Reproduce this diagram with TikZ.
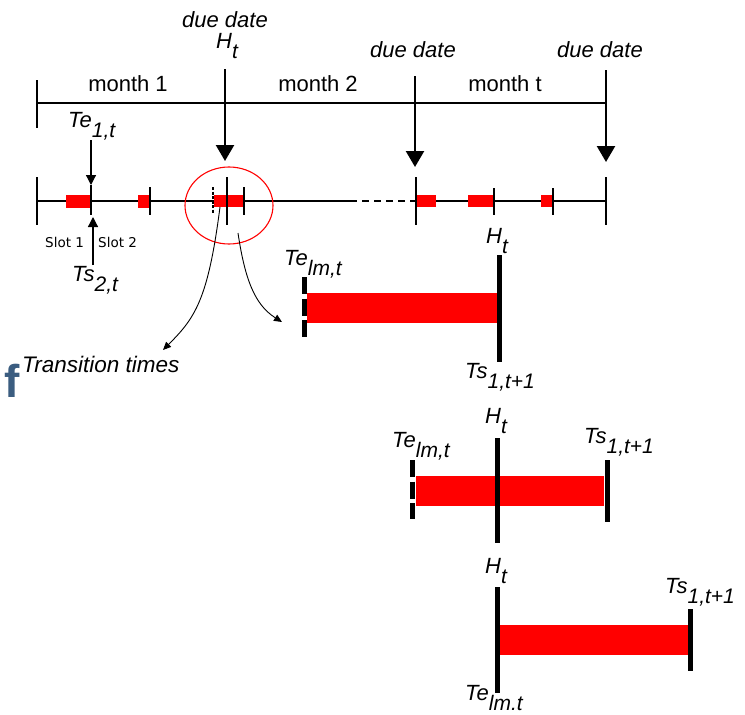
\documentclass[tikz,border=0pt]{standalone}
\usepackage{fontspec}
\setmainfont{Liberation Sans}
\newfontfamily\dejavu{DejaVu Sans}
\usetikzlibrary{arrows.meta,shapes.geometric}
\newcommand{\fsz}[1]{\fontsize{#1}{#1}\selectfont}
\newcommand{\tlab}[2]{{\fsz{22}\itshape #1}\raisebox{-10pt}{\fsz{21}\itshape #2}}
\definecolor{fblue}{HTML}{3B5D80}
\begin{document}
\begin{tikzpicture}[x=1pt,y=-1pt,
  txt/.style={inner sep=0pt, anchor=base},
  txtw/.style={inner sep=0pt, anchor=base west},
  big/.style={font=\fsz{22}},
  bigarrow/.style={line width=2.4pt, -{Triangle[length=16pt,width=18pt]}},
  smallarrow/.style={line width=1.2pt, -{Triangle[length=10pt,width=10pt]}},
  axis/.style={line width=1.8pt},
  tick/.style={line width=1.8pt},
  bar/.style={fill=red, draw=none},
  heavy/.style={line width=5pt},
  heavydash/.style={line width=5pt, dash pattern=on 17pt off 4.5pt},
  curvearrow/.style={line width=0.9pt, -{Triangle[length=8pt,width=7pt]}}
]
\useasboundingbox (0,0) rectangle (745,715);

% ---------- top timeline ----------
\coordinate (topL) at (37,103);
\coordinate (topR) at (606,103);
\draw[axis] (topL) -- (topR);
\coordinate (tickTa) at (37,80);
\coordinate (tickTb) at (37,128);
\draw[tick] (tickTa) -- (tickTb);

\node[txt, big] (m1) at (128,91) {month 1};
\node[txt, big] (m2) at (318,91) {month 2};
\node[txt, big] (mt) at (505,91) {month t};

\node[txt, big, font=\fsz{22}\itshape] (dd1) at (225,27) {due date};
\node[txtw] (H1) at (216,48) {\tlab{H}{t}};
\node[txt, big, font=\fsz{22}\itshape] (dd2) at (413,57) {due date};
\node[txt, big, font=\fsz{22}\itshape] (dd3) at (600,57) {due date};

\coordinate (a1s) at (225,69);  \coordinate (a1e) at (225,161);
\coordinate (a2s) at (415,76);  \coordinate (a2e) at (415,167);
\coordinate (a3s) at (606,70);  \coordinate (a3e) at (606,162);
\draw[bigarrow] (a1s) -- (a1e);
\draw[bigarrow] (a2s) -- (a2e);
\draw[bigarrow] (a3s) -- (a3e);

% ---------- bottom timeline ----------
\coordinate (bL) at (37,201);
\coordinate (bM) at (350,201);
\coordinate (bD) at (416,201);
\coordinate (bR) at (606,201);
\draw[line width=1.5pt] (bL) -- (bM);
\draw[line width=1.5pt, dash pattern=on 7pt off 5pt] (bM) -- (bD);
\draw[line width=1.5pt] (bD) -- (bR);

% red bars
\fill[bar] (66,195) rectangle (91,208);
\fill[bar] (138,195) rectangle (149,208);
\fill[bar] (214,195) rectangle (244,207);
\fill[bar] (417,195) rectangle (436,207);
\fill[bar] (468,195) rectangle (493,207);
\fill[bar] (541,195) rectangle (552,207);

% ticks
\draw[tick] (37,177) -- (37,225);
\draw[line width=1.5pt] (91,185) -- (91,215);
\draw[line width=1.5pt] (150,187) -- (150,215);
\draw[line width=1.3pt, dash pattern=on 3pt off 1.5pt] (213,187) -- (213,214);
\draw[line width=1.5pt] (227,177) -- (227,225);
\draw[line width=1.5pt] (244,187) -- (244,215);
\draw[tick] (416,177) -- (416,225);
\draw[line width=1.5pt] (494,188) -- (494,215);
\draw[line width=1.5pt] (553,188) -- (553,215);
\draw[tick] (606,177) -- (606,225);

% circle
\node[draw=red, line width=1.1pt, ellipse, minimum width=88pt, minimum height=77pt, inner sep=0pt] (circ) at (229,205.5) {};

% Te / Ts arrows
\node[txtw] (Te1) at (68,127) {\tlab{Te}{1,t}};
\coordinate (te1s) at (91,140);  \coordinate (te1e) at (91,185);
\draw[smallarrow] (te1s) -- (te1e);
\node[txtw] (Ts2) at (72,281) {\tlab{Ts}{2,t}};
\coordinate (ts2s) at (93,265);  \coordinate (ts2e) at (93,217);
\draw[smallarrow] (ts2s) -- (ts2e);
\node[txtw, font=\dejavu\fsz{13.5}] (s1) at (45,247) {Slot 1};
\node[txtw, font=\dejavu\fsz{13.5}] (s2) at (98,247) {Slot 2};

% transition times
\node[txtw, font=\fsz{22.5}\itshape] (tt) at (22,372) {Transition times};
\coordinate (c1s) at (220,207); \coordinate (c1e) at (163,350);
\coordinate (c2s) at (238,233); \coordinate (c2e) at (282,322);
\draw[curvearrow] (c1s) .. controls (208,300) and (195,318) .. (c1e);
\draw[curvearrow] (c2s) .. controls (245,280) and (255,305) .. (c2e);

% f
\node[txtw, font=\fsz{46}\bfseries, text=fblue] (ff) at (4,397) {f};

% ---------- detail 1 ----------
\fill[bar] (307,293) rectangle (497,323);
\draw[heavydash] (304,277) -- (304,338);
\draw[heavy] (499,255) -- (499,362);
\node[txtw] (d1te) at (284,265) {\tlab{Te}{lm,t}};
\node[txtw] (d1h) at (486,243) {\tlab{H}{t}};
\node[txtw] (d1ts) at (465,378) {\tlab{Ts}{1,t+1}};

% ---------- detail 2 ----------
\fill[bar] (416,476) rectangle (604,506);
\draw[heavydash] (412,460) -- (412,519);
\draw[heavy] (497,438) -- (497,543);
\draw[heavy] (607,460) -- (607,522);
\node[txtw] (d2h) at (485,423) {\tlab{H}{t}};
\node[txtw] (d2te) at (392,447) {\tlab{Te}{lm,t}};
\node[txtw] (d2ts) at (584,443) {\tlab{Ts}{1,t+1}};

% ---------- detail 3 ----------
\fill[bar] (499,625) rectangle (688,655);
\draw[heavy] (497,587) -- (497,693);
\draw[heavy] (690,609) -- (690,671);
\node[txtw] (d3h) at (485,573) {\tlab{H}{t}};
\node[txtw] (d3ts) at (665,593) {\tlab{Ts}{1,t+1}};
\node[txtw] (d3te) at (465,700) {\tlab{Te}{lm.t}};
\end{tikzpicture}
\end{document}
